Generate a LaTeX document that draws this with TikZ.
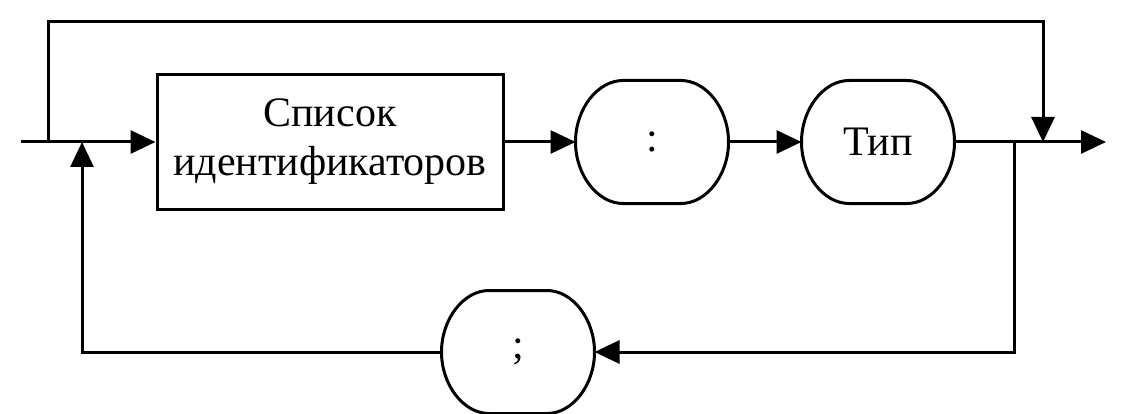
\documentclass[tikz,border=0pt]{standalone}
\usepackage{fontspec}
\setmainfont{Liberation Serif}
\usetikzlibrary{arrows.meta}
\newcommand\drawstadium[1]{%
  \draw ([xshift=-29pt]#1.north) .. controls ([xshift=-54.4pt]#1.north) and ([yshift=33.1pt]#1.west) .. (#1.west)
     .. controls ([yshift=-33.1pt]#1.west) and ([xshift=-54.4pt]#1.south) .. ([xshift=-29pt]#1.south)
     -- ([xshift=29pt]#1.south)
     .. controls ([xshift=54.4pt]#1.south) and ([yshift=-33.1pt]#1.east) .. (#1.east)
     .. controls ([yshift=33.1pt]#1.east) and ([xshift=54.4pt]#1.north) .. ([xshift=29pt]#1.north)
     -- cycle;}
\begin{document}
\begin{tikzpicture}[x=1pt,y=-1pt,
  line width=3pt,
  every node/.style={font=\fontsize{42}{49}\selectfont},
  boxnode/.style={draw,rectangle,minimum width=346pt,minimum height=134pt,inner sep=0pt,align=center},
  roundnode/.style={rectangle,minimum width=150pt,minimum height=120pt,inner sep=0pt},
  arr/.style={-{Triangle[length=25pt,width=23pt]}}]
\useasboundingbox (0,0) rectangle (1134,414);
\node[boxnode] (list) at (330,142) {Список\\идентификаторов};
\node[roundnode] (colon) at (652,142) {:};
\node[roundnode] (type) at (878,142) {Тип};
\node[roundnode] (semi) at (518,352) {;};
\drawstadium{colon}
\drawstadium{type}
\drawstadium{semi}
\coordinate (start) at (21,142);
\coordinate (loopA) at (48,142);
\coordinate (loopB) at (48,22);
\coordinate (loopC) at (1043,22);
\coordinate (loopD) at (1043,142);
\coordinate (split) at (1014,142);
\coordinate (splitB) at (1014,352);
\coordinate (backA) at (82,352);
\coordinate (backB) at (82,142);
\coordinate (finish) at (1106,142);
\draw[arr] (start) -- (list);
\draw[arr] (list) -- (colon);
\draw[arr] (colon) -- (type);
\draw[arr] (type) -- (finish);
\draw[arr] (loopA) -- (loopB) -- (loopC) -- (loopD);
\draw[arr] (split) -- (splitB) -- (semi);
\draw[arr] (semi) -- (backA) -- (backB);
\end{tikzpicture}
\end{document}
